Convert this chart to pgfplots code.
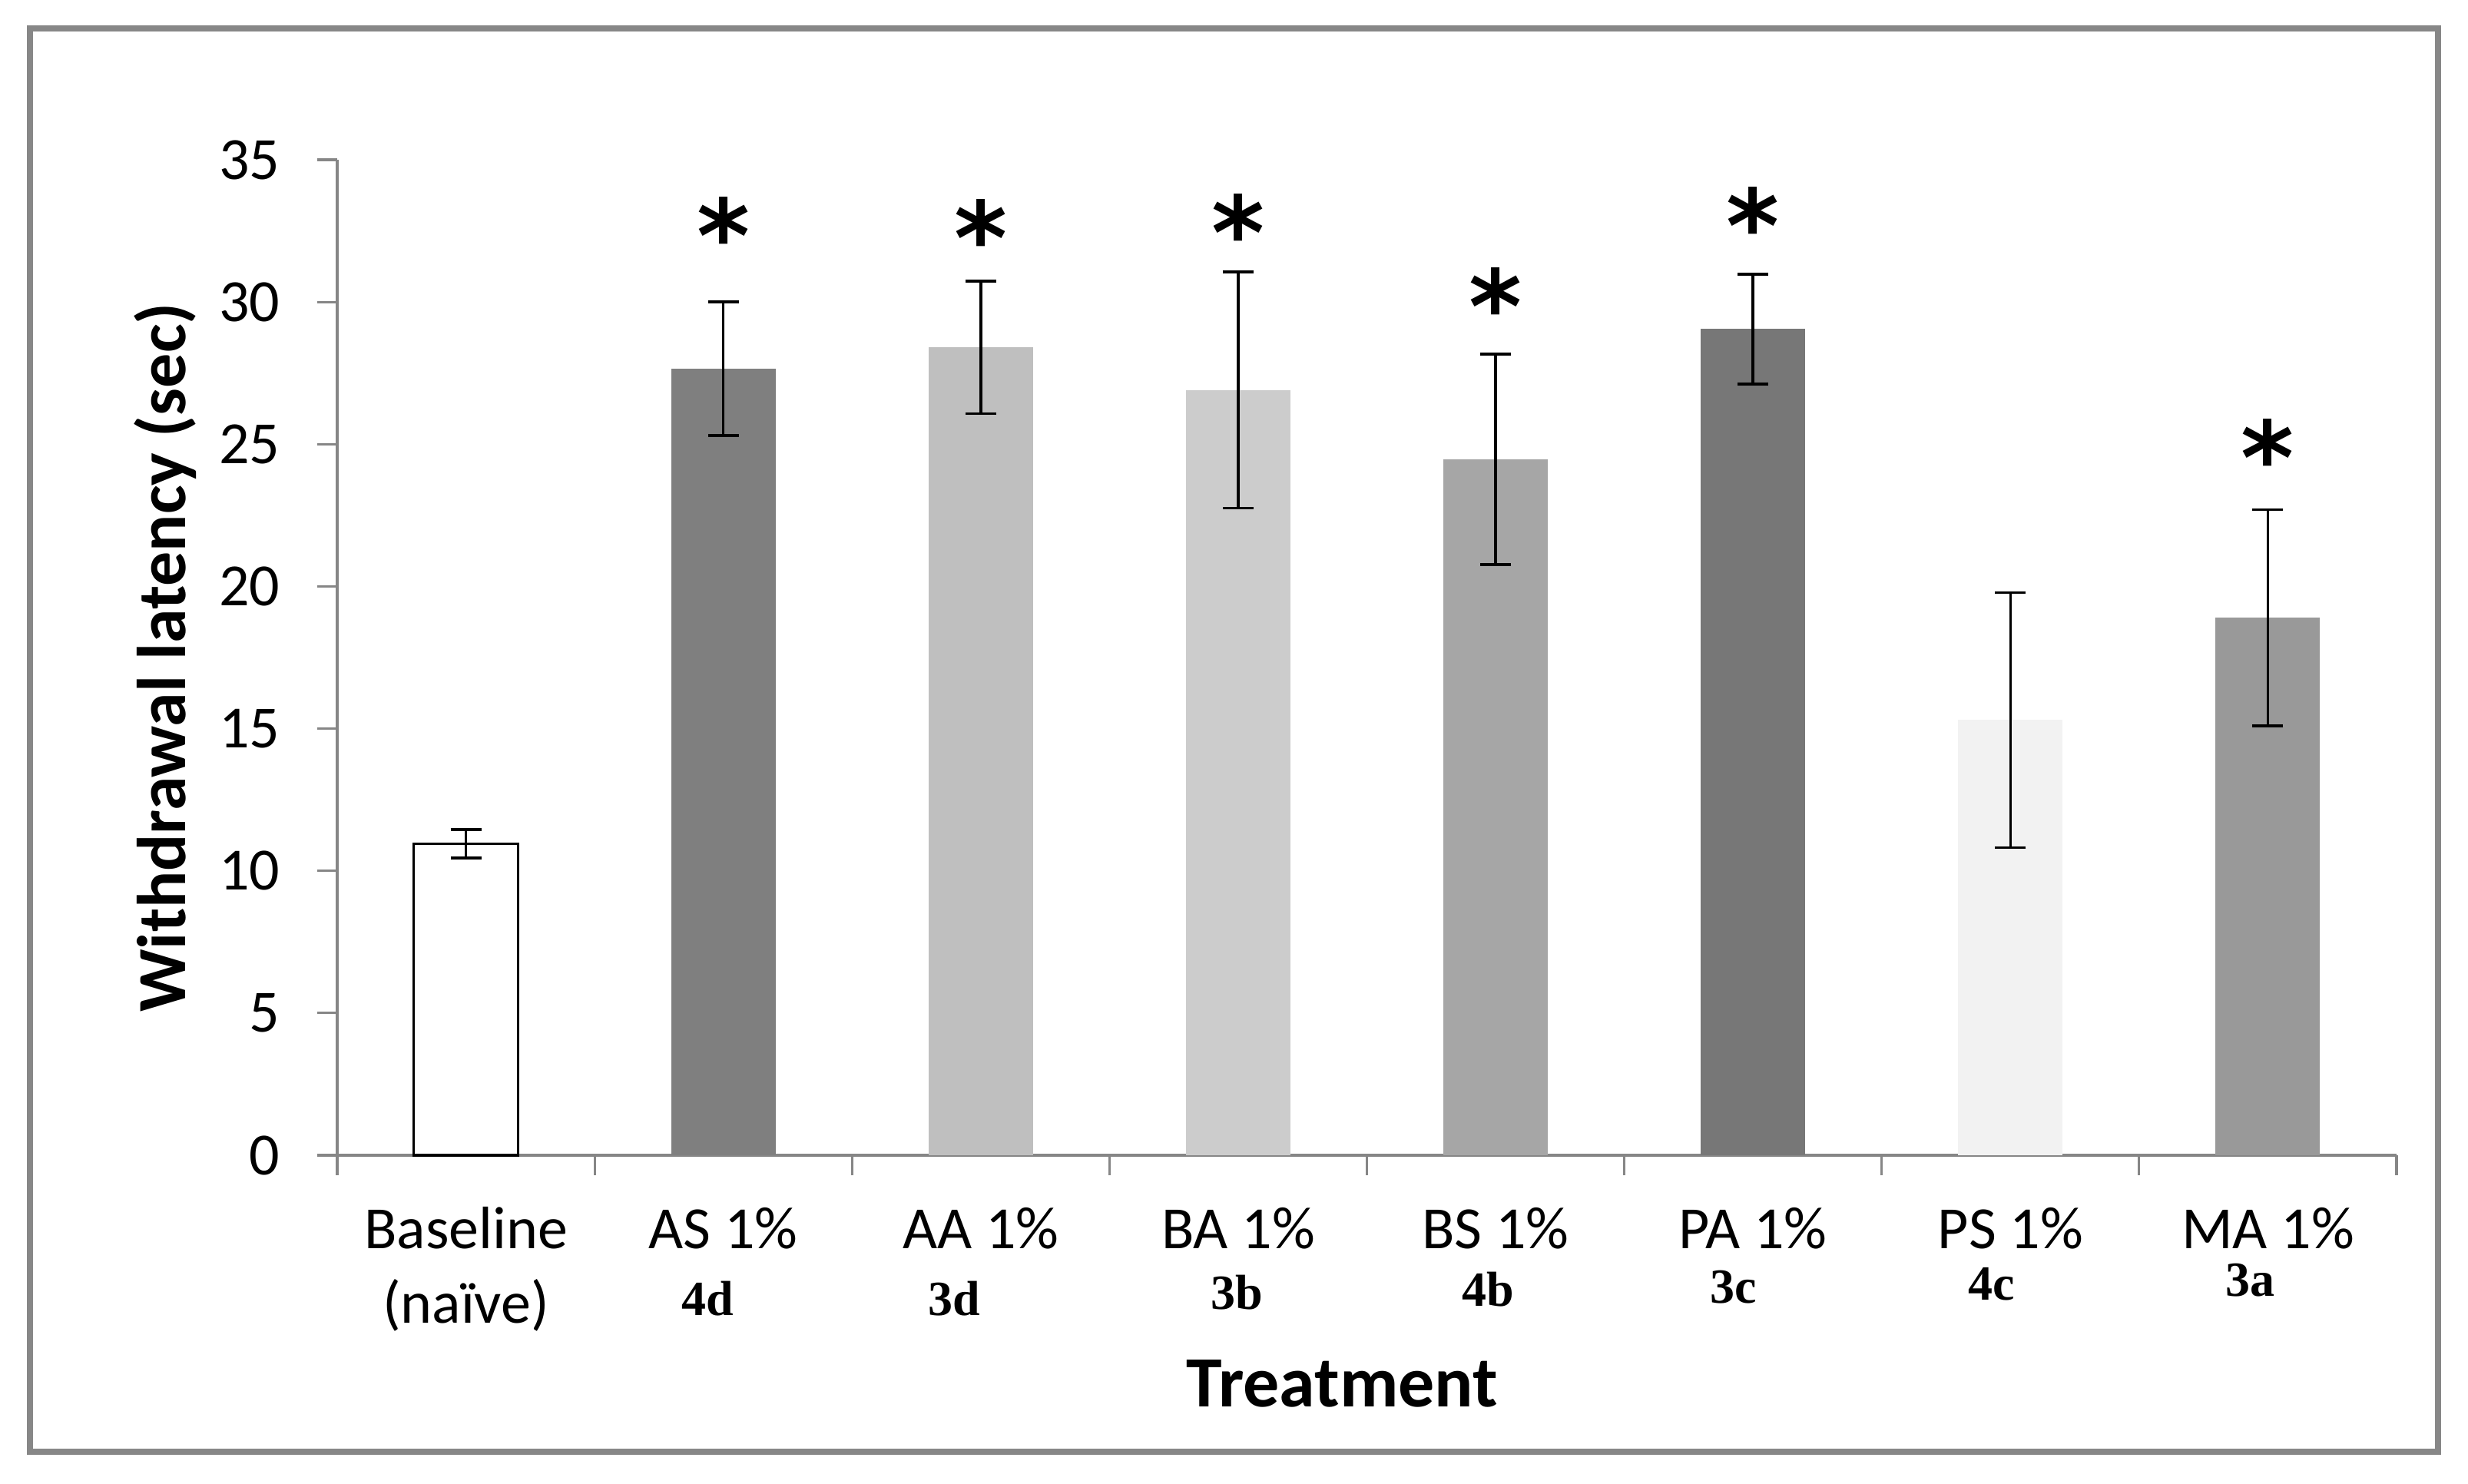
\documentclass[border=0pt]{standalone}
\usepackage{fontspec}
\setmainfont{Carlito}
\newfontfamily\serifb{Liberation Serif}
\newfontfamily\astfont{DejaVu Sans}
\usepackage{pgfplots}
\pgfplotsset{compat=1.18}
\definecolor{axgray}{HTML}{868686}
\definecolor{framegray}{HTML}{878787}
\definecolor{cAS}{HTML}{7F7F7F}
\definecolor{cAA}{HTML}{BFBFBF}
\definecolor{cBA}{HTML}{CCCCCC}
\definecolor{cBS}{HTML}{A6A6A6}
\definecolor{cPA}{HTML}{777777}
\definecolor{cPS}{HTML}{F2F2F2}
\definecolor{cMA}{HTML}{999999}
% sub label: #1 = twice the horizontal shift, #2 = raise
\newcommand\sub[3]{\raisebox{#2}{\makebox[0pt]{\kern#1\relax{\serifb\bfseries\fontsize{16}{16}\selectfont #3}}}}
\begin{document}
\begin{tikzpicture}
\path[use as bounding box] (0,0) rectangle (803.25pt,482.75pt);
\draw[line width=2pt, framegray] (9.75pt,10.25pt) rectangle (793.6pt,473.5pt);
\begin{axis}[
  at={(109.75pt,106.75pt)}, anchor=south west,
  scale only axis, width=670.25pt, height=324pt,
  xmin=-0.5, xmax=7.5, ymin=0, ymax=35,
  axis x line=bottom, axis y line=left,
  axis line style={-, axgray, line width=0.8pt},
  tick style={axgray, line width=0.8pt},
  tick align=outside, major tick length=6.5pt,
  xtick={-0.5,0.5,...,7.5},
  x tick label as interval,
  xticklabels={{Baseline\\(naïve)},
    {AS 1\%\\\sub{-10pt}{2.5pt}{4d}},
    {AA 1\%\\\sub{-17.5pt}{2.5pt}{3d}},
    {BA 1\%\\\sub{-1pt}{4.5pt}{3b}},
    {BS 1\%\\\sub{-5pt}{5.5pt}{4b}},
    {PA 1\%\\\sub{-12.5pt}{6.5pt}{3c}},
    {PS 1\%\\\sub{-12.5pt}{7.5pt}{4c}},
    {MA 1\%\\\sub{-11.5pt}{8.75pt}{3a}}},
  x tick label style={font=\fontsize{19.5}{24.25}\selectfont, align=center, anchor=base, inner sep=0pt, yshift=-48pt},
  ytick={0,5,...,35},
  /pgf/number format/assume math mode=true,
  y tick label style={font=\fontsize{19.5}{20}\selectfont, inner sep=0pt, xshift=-12pt},
  xlabel={Treatment},
  ylabel={Withdrawal latency (sec)},
  xlabel style={at={(axis description cs:0.488,0)}, anchor=base, yshift=-81.75pt, inner sep=0pt, font=\bfseries\fontsize{23.5}{24}\selectfont},
  ylabel style={at={(axis description cs:0,0.5)}, anchor=base, yshift=49.25pt, inner sep=0pt, font=\bfseries\fontsize{22.5}{23}\selectfont},
  clip=false,
  mybar/.style={ybar, bar width=34pt, bar shift=0pt, draw=none, fill=#1,
    error bars/.cd, y dir=both, y explicit,
    error bar style={black, line width=0.9pt},
    error mark options={black, rotate=90, mark size=5pt, line width=0.9pt}},
]
\addplot[ybar, bar width=34pt, bar shift=0pt, draw=black, line width=0.85pt, fill=white,
  error bars/.cd, y dir=both, y explicit,
  error bar style={black, line width=0.9pt},
  error mark options={black, rotate=90, mark size=5pt, line width=0.9pt}]
  coordinates {(0,10.95) +- (0,0.5)};
\addplot[mybar=cAS] coordinates {(1,27.65) +- (0,2.35)};
\addplot[mybar=cAA] coordinates {(2,28.41) +- (0,2.33)};
\addplot[mybar=cBA] coordinates {(3,26.9) +- (0,4.15)};
\addplot[mybar=cBS] coordinates {(4,24.47) +- (0,3.7)};
\addplot[mybar=cPA] coordinates {(5,29.05) +- (0,1.93)};
\addplot[mybar=cPS] coordinates {(6,15.3) +- (0,4.48)};
\addplot[mybar=cMA] coordinates {(7,18.9) +- (0,3.8)};
\addplot[only marks, mark=text, text mark={*}, text mark as node=true,
  text mark style={font=\astfont\bfseries\fontsize{33}{33}\selectfont, anchor=center, inner sep=0pt}]
  coordinates {(1,32.36) (2,32.28) (3,32.47) (4,29.87) (5,32.71) (7,24.55)};
\end{axis}
\end{tikzpicture}
\end{document}
